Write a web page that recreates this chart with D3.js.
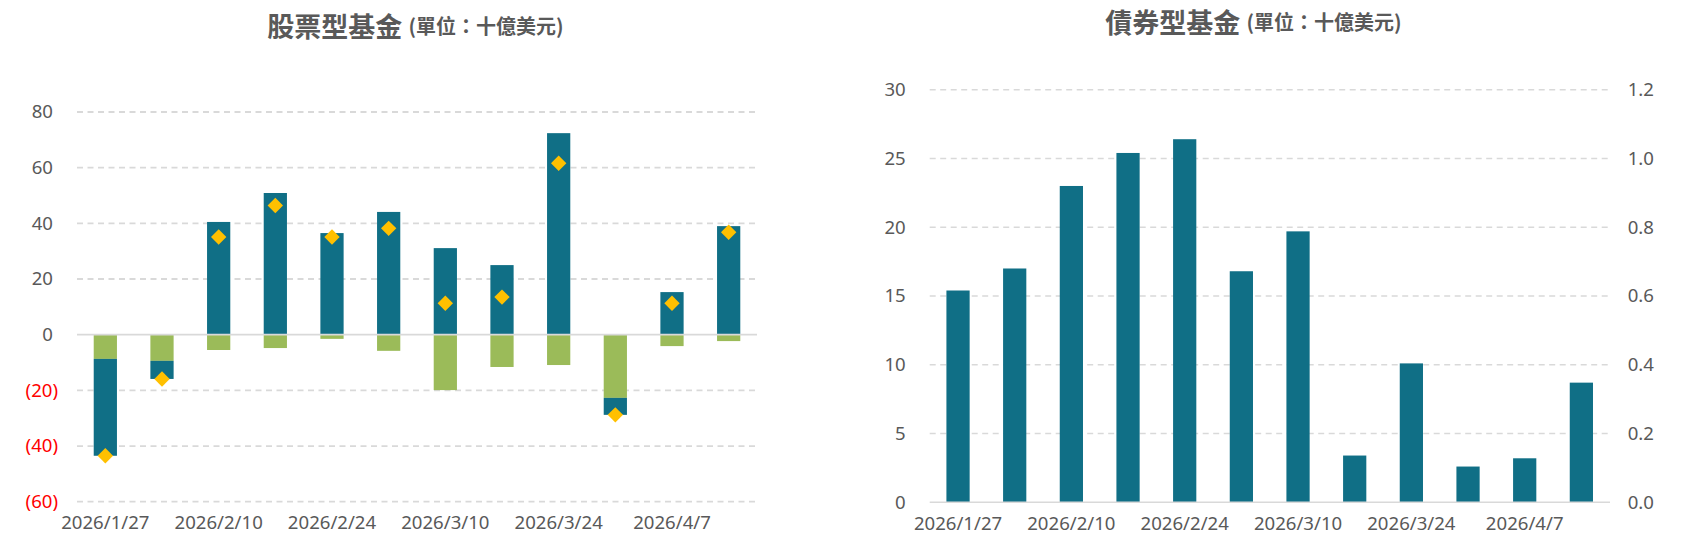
<!DOCTYPE html>
<html>
<head>
<meta charset="utf-8">
<script src="https://cdn.jsdelivr.net/npm/d3@7"></script>
<style>
  html, body { margin: 0; padding: 0; background: #ffffff; }
  svg { display: block; }
</style>
</head>
<body>
<svg id="chart" width="1686" height="559"></svg>
<script>
// ---------- data ----------
const dates = ["2026/1/27","2026/2/3","2026/2/10","2026/2/17","2026/2/24","2026/3/3",
               "2026/3/10","2026/3/17","2026/3/24","2026/3/31","2026/4/7","2026/4/14"];
const dateTickLabels = ["2026/1/27","2026/2/10","2026/2/24","2026/3/10","2026/3/24","2026/4/7"];

// Equity funds (left chart)
const equityTeal  = [-34.8, -6.5, 40.5, 50.9, 36.5, 44.1, 31.1, 25.0, 72.4, -6.1, 15.3, 39.0];
const equityGreen = [-8.7, -9.4, -5.5, -4.8, -1.5, -5.8, -19.9, -11.6, -10.9, -22.7, -4.1, -2.3];
const equityNet   = [-43.5, -15.9, 35.1, 46.4, 35.1, 38.2, 11.3, 13.5, 61.6, -28.8, 11.3, 36.8];
const equityTicks = [-60, -40, -20, 0, 20, 40, 60, 80];

// Bond funds (right chart)
const bondFlows      = [15.4, 17.0, 23.0, 25.4, 26.4, 16.8, 19.7, 3.4, 10.1, 2.6, 3.2, 8.7];
const bondTicks      = [0, 5, 10, 15, 20, 25, 30];
const bondRightTicks = [0, 0.2, 0.4, 0.6, 0.8, 1.0, 1.2];

const leftTitle  = "股票型基金";
const rightTitle = "債券型基金";
const unitLabel  = "(單位：十億美元)";

// ---------- styles ----------
const TEAL = "#106F86", GREEN = "#9BBB59", GOLD = "#FFC000";
const GRID = "#D9D9D9", TEXT = "#595959";
const LATIN = "'Noto Sans', 'Open Sans', sans-serif";
const CJK = "'Noto Sans CJK TC', 'Noto Sans CJK SC', sans-serif";
const TICK_FS = 18.6;

const svg = d3.select("#chart");

function title(cx, cy, main) {
  const t = svg.append("text")
    .attr("x", cx).attr("y", cy)
    .attr("text-anchor", "middle")
    .attr("dominant-baseline", "central")
    .attr("font-family", CJK)
    .attr("font-weight", "bold")
    .attr("fill", TEXT);
  t.append("tspan").attr("font-size", 27).text(main + " ");
  t.append("tspan").attr("font-size", 20).text(unitLabel);
}

// ================= LEFT: equity =================
{
  const x = d3.scaleBand().domain(dates).range([77, 757]).paddingInner(0.59).paddingOuter(0.295);
  const y = d3.scaleLinear().domain([-60, 80]).range([501.7, 112]);
  const g = svg.append("g");

  // grid
  g.append("g").selectAll("line").data(equityTicks.filter(d => d !== 0)).join("line")
    .attr("x1", 77).attr("x2", 755)
    .attr("y1", d => y(d)).attr("y2", d => y(d))
    .attr("stroke", GRID).attr("stroke-width", 1.8).attr("stroke-dasharray", "6,4.5");

  // stacked bars
  const rows = dates.map((d, i) => ({ date: d, green: equityGreen[i], teal: equityTeal[i] }));
  const stack = d3.stack().keys(["green", "teal"]).offset(d3.stackOffsetDiverging)(rows);
  const colors = { green: GREEN, teal: TEAL };
  g.append("g").selectAll("g").data(stack).join("g")
    .attr("fill", s => colors[s.key])
    .selectAll("rect").data(s => s).join("rect")
      .attr("x", d => x(d.data.date))
      .attr("width", x.bandwidth())
      .attr("y", d => y(Math.max(d[0], d[1])))
      .attr("height", d => Math.abs(y(d[0]) - y(d[1])));

  // zero line
  g.append("line").attr("x1", 77).attr("x2", 757).attr("y1", y(0)).attr("y2", y(0))
    .attr("stroke", GRID).attr("stroke-width", 1.8);

  // net diamonds
  g.append("g").selectAll("path").data(equityNet).join("path")
    .attr("d", d3.symbol().type(d3.symbolSquare).size(118))
    .attr("transform", (d, i) => `translate(${x(dates[i]) + x.bandwidth() / 2},${y(d)}) rotate(45)`)
    .attr("fill", GOLD);

  // y axis
  const ya = g.append("g").attr("transform", "translate(77,0)")
    .call(d3.axisLeft(y).tickValues(equityTicks).tickSize(0).tickPadding(19)
      .tickFormat(d => d < 0 ? `(${Math.abs(d)})` : `${d}`));
  ya.select(".domain").remove();
  ya.selectAll("text")
    .attr("font-family", LATIN).attr("font-size", TICK_FS)
    .attr("fill", d => d < 0 ? "#FF0000" : TEXT)
    .attr("x", d => d < 0 ? -19 : -24);

  // x axis
  const xa = g.append("g").attr("transform", `translate(0,${y(-60)})`)
    .call(d3.axisBottom(x).tickValues(dateTickLabels).tickSize(0).tickPadding(14));
  xa.select(".domain").remove();
  xa.selectAll("text").attr("font-family", LATIN).attr("font-size", TICK_FS).attr("fill", TEXT);

  title(415.5, 25, leftTitle);
}

// ================= RIGHT: bond =================
{
  const x = d3.scaleBand().domain(dates).range([929.7, 1609.7]).paddingInner(0.59).paddingOuter(0.295);
  const y = d3.scaleLinear().domain([0, 30]).range([502.3, 89.7]);
  const y2 = d3.scaleLinear().domain([0, 1.2]).range([502.3, 89.7]);
  const g = svg.append("g");

  g.append("g").selectAll("line").data(bondTicks.filter(d => d !== 0)).join("line")
    .attr("x1", 929.7).attr("x2", 1608)
    .attr("y1", d => y(d)).attr("y2", d => y(d))
    .attr("stroke", GRID).attr("stroke-width", 1.4).attr("stroke-dasharray", "6,4.5");

  g.append("g").selectAll("rect").data(bondFlows).join("rect")
    .attr("x", (d, i) => x(dates[i]))
    .attr("width", x.bandwidth())
    .attr("y", d => y(d))
    .attr("height", d => y(0) - y(d))
    .attr("fill", TEAL);

  g.append("line").attr("x1", 929.7).attr("x2", 1610).attr("y1", y(0)).attr("y2", y(0))
    .attr("stroke", GRID).attr("stroke-width", 1.6);

  const ya = g.append("g").attr("transform", "translate(929.7,0)")
    .call(d3.axisLeft(y).tickValues(bondTicks).tickSize(0).tickPadding(24).tickFormat(d3.format("d")));
  ya.select(".domain").remove();
  ya.selectAll("text").attr("font-family", LATIN).attr("font-size", TICK_FS).attr("fill", TEXT);

  const ya2 = g.append("g").attr("transform", "translate(1609.7,0)")
    .call(d3.axisRight(y2).tickValues(bondRightTicks).tickSize(0).tickPadding(18).tickFormat(d3.format(".1f")));
  ya2.select(".domain").remove();
  ya2.selectAll("text").attr("font-family", LATIN).attr("font-size", TICK_FS).attr("fill", TEXT);

  const xa = g.append("g").attr("transform", `translate(0,${y(0)})`)
    .call(d3.axisBottom(x).tickValues(dateTickLabels).tickSize(0).tickPadding(14));
  xa.select(".domain").remove();
  xa.selectAll("text").attr("font-family", LATIN).attr("font-size", TICK_FS).attr("fill", TEXT);

  title(1253.5, 21, rightTitle);
}
</script>
</body>
</html>
